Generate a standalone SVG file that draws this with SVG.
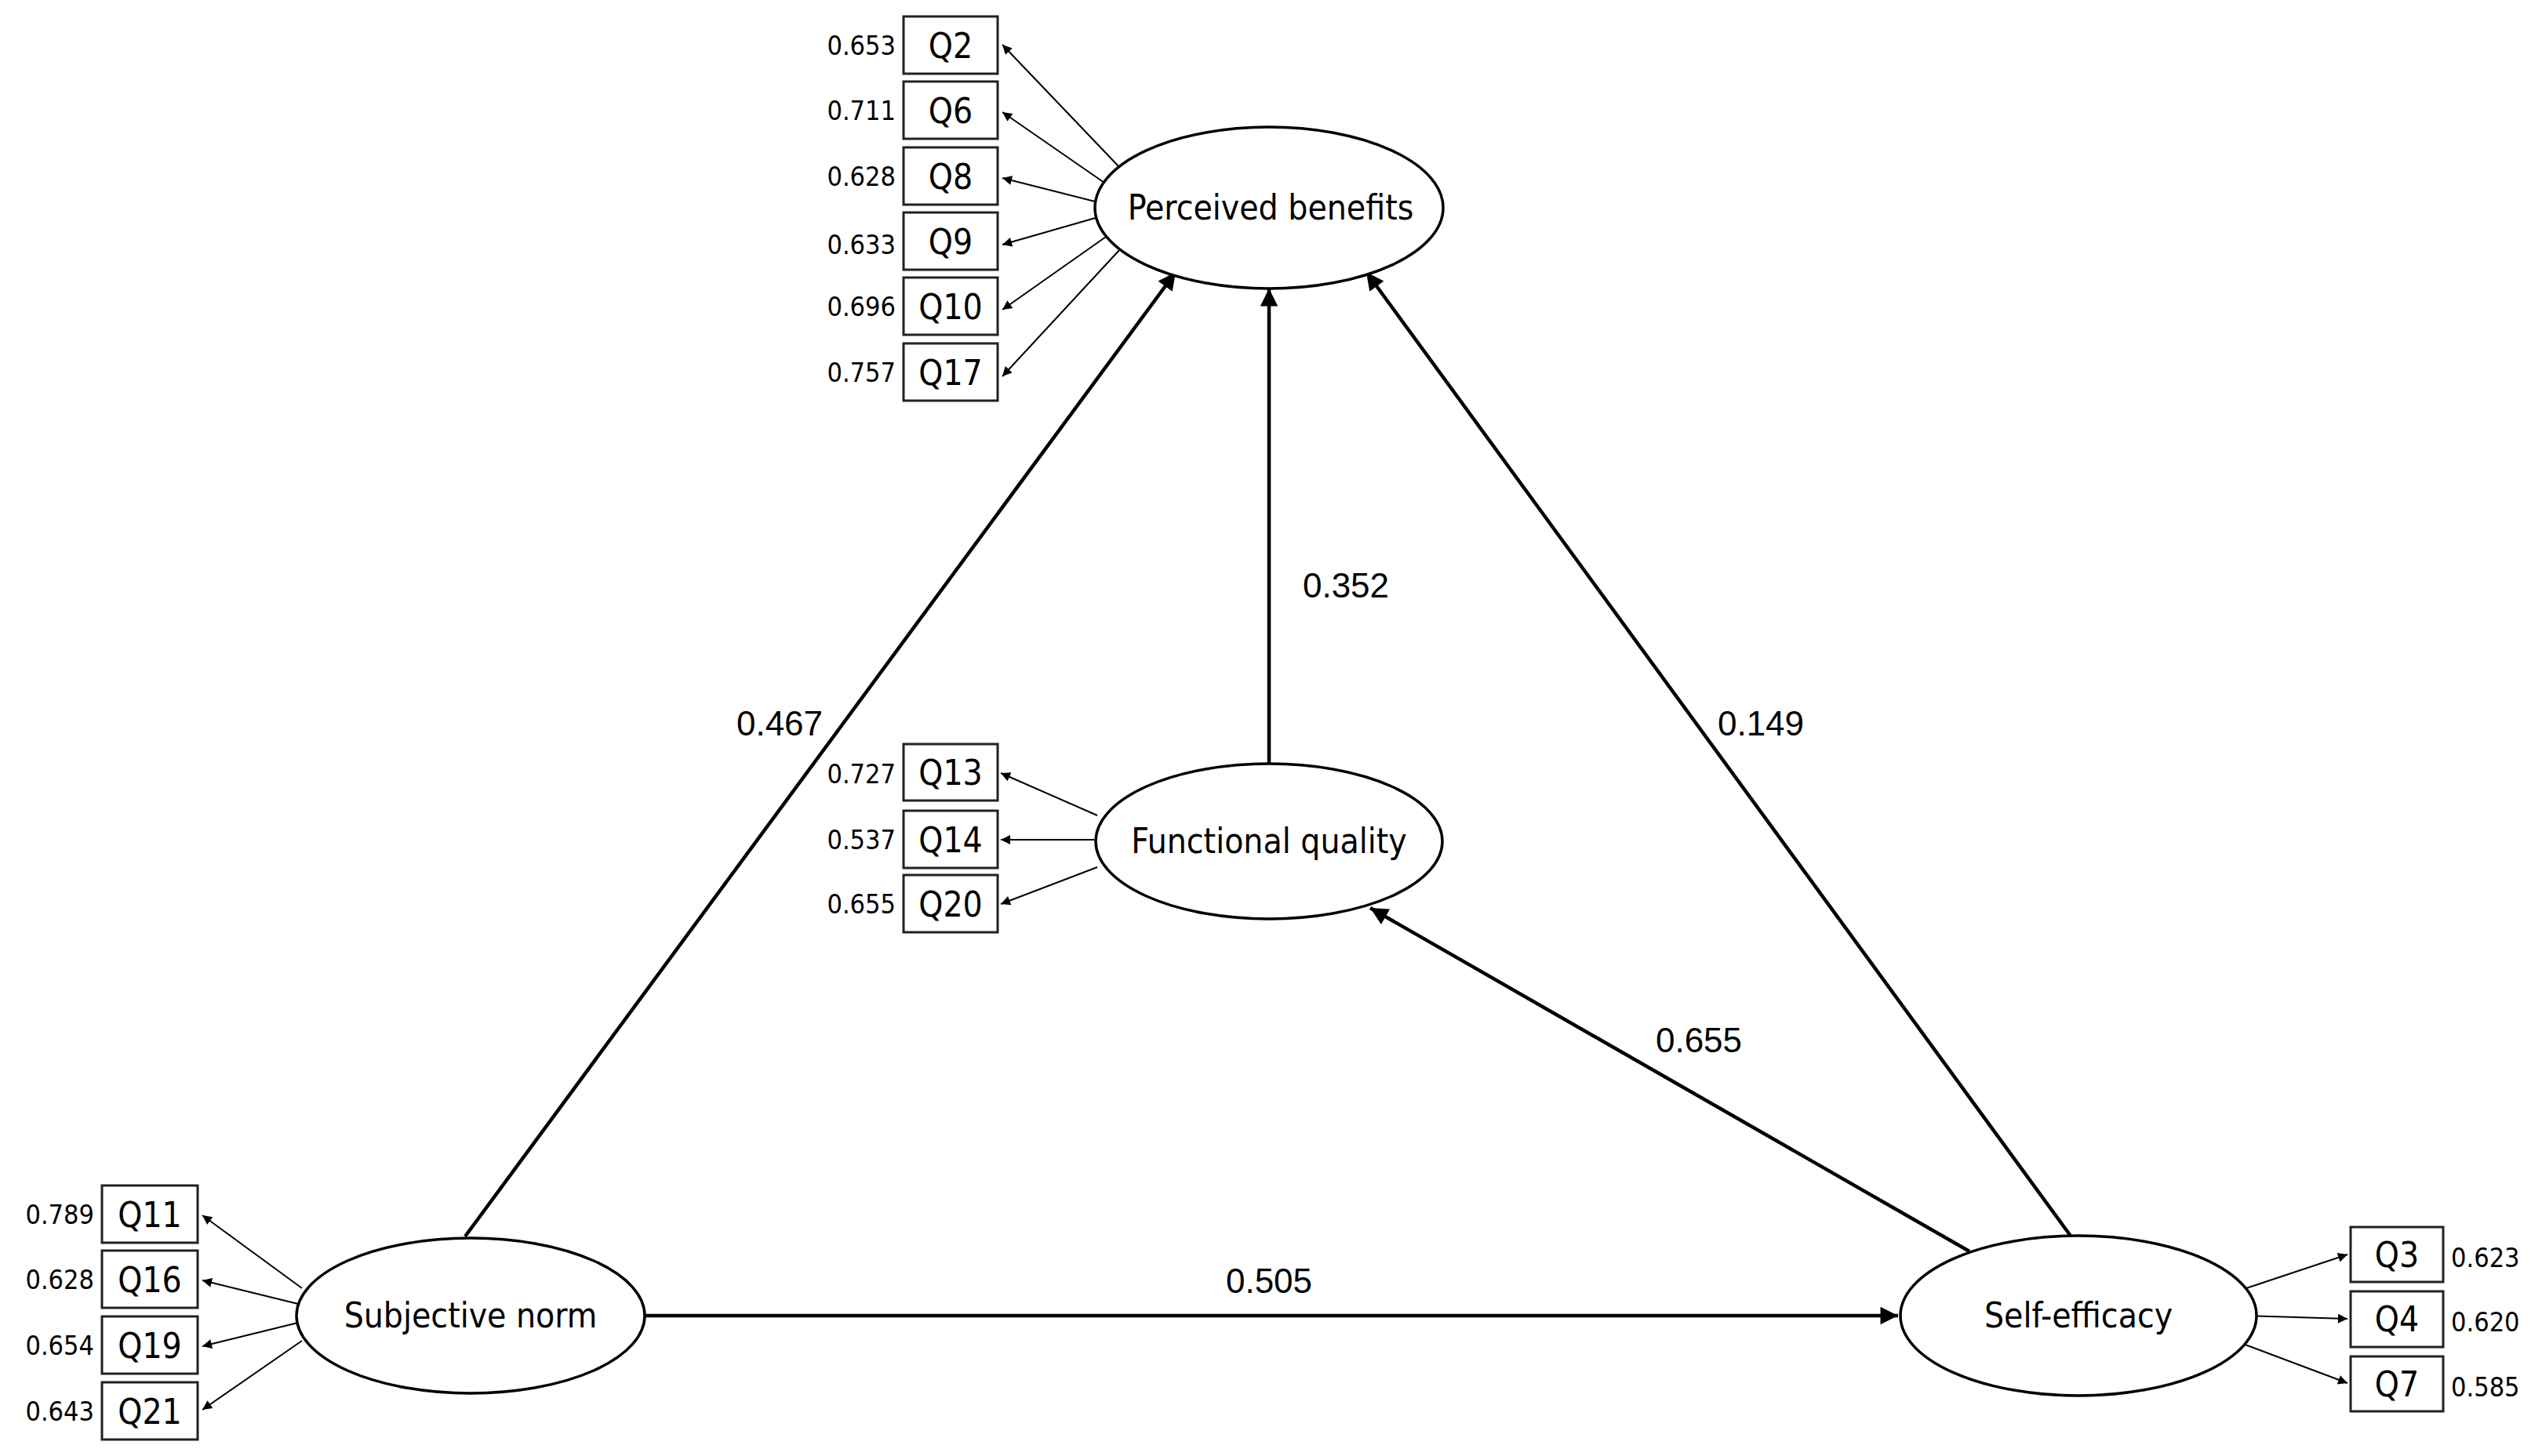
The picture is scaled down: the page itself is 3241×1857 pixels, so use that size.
<svg xmlns="http://www.w3.org/2000/svg" width="3241" height="1857" viewBox="0 0 3241 1857">
<style>
text{font-family:"DejaVu Sans Condensed","DejaVu Sans",sans-serif;fill:#000}
.n{font-size:34px}
.q{font-size:44px;text-anchor:middle}
.e{font-size:44px;text-anchor:middle}
.l{font-size:44px;text-anchor:middle;font-family:"Liberation Sans",sans-serif}
rect{fill:#fff;stroke:#222;stroke-width:3}
ellipse{fill:#fff;stroke:#000;stroke-width:3.5}
.thin{stroke:#000;stroke-width:2;fill:none;marker-end:url(#sa)}
.thick{stroke:#000;stroke-width:4.5;fill:none;marker-end:url(#la)}
</style>
<defs>
<marker id="sa" viewBox="0 0 10 10" refX="10" refY="5" markerWidth="9" markerHeight="6" markerUnits="strokeWidth" orient="auto"><path d="M0,0 L10,5 L0,10 z" fill="#000"/></marker>
<marker id="la" viewBox="0 0 10 10" refX="10" refY="5" markerWidth="9" markerHeight="5" markerUnits="strokeWidth" orient="auto"><path d="M0,0 L10,5 L0,10 z" fill="#000"/></marker>
</defs>
<rect width="3241" height="1857" fill="#fff" style="stroke:none"/>
<g id="connectors">
<line class="thin" x1="1427" y1="213" x2="1278" y2="57"/>
<line class="thin" x1="1408" y1="233" x2="1278" y2="143"/>
<line class="thin" x1="1400" y1="258" x2="1278" y2="227"/>
<line class="thin" x1="1400" y1="277" x2="1278" y2="312"/>
<line class="thin" x1="1410" y1="302" x2="1278" y2="395"/>
<line class="thin" x1="1428" y1="318" x2="1278" y2="480"/>
<line class="thin" x1="1399" y1="1040" x2="1276" y2="986"/>
<line class="thin" x1="1395" y1="1071" x2="1276" y2="1071"/>
<line class="thin" x1="1399" y1="1106" x2="1276" y2="1153"/>
<line class="thin" x1="385" y1="1643" x2="258" y2="1550"/>
<line class="thin" x1="380" y1="1663" x2="258" y2="1633"/>
<line class="thin" x1="380" y1="1687" x2="258" y2="1717"/>
<line class="thin" x1="385" y1="1710" x2="258" y2="1798"/>
<line class="thin" x1="2852" y1="1647" x2="2993" y2="1600"/>
<line class="thin" x1="2861" y1="1678" x2="2993" y2="1682"/>
<line class="thin" x1="2852" y1="1711" x2="2993" y2="1764"/>
<line class="thick" x1="593" y1="1577" x2="1499" y2="347"/>
<line class="thick" x1="1618" y1="974" x2="1618" y2="368"/>
<line class="thick" x1="2642" y1="1579" x2="1742" y2="347"/>
<line class="thick" x1="2511" y1="1596" x2="1747" y2="1158"/>
<line class="thick" x1="822" y1="1678" x2="2420" y2="1678"/>
<text class="l" x="994" y="938">0.467</text>
<text class="l" x="1716" y="762">0.352</text>
<text class="l" x="2245" y="938">0.149</text>
<text class="l" x="2166" y="1342">0.655</text>
<text class="l" x="1618" y="1649">0.505</text>
</g>
<g id="perceived-benefits"><ellipse cx="1618" cy="265" rx="222" ry="103"/><text class="e" x="1620" y="280">Perceived benefits</text></g>
<g id="functional-quality"><ellipse cx="1618" cy="1073" rx="221" ry="99"/><text class="e" x="1618" y="1088">Functional quality</text></g>
<g id="subjective-norm"><ellipse cx="600" cy="1678" rx="222" ry="99"/><text class="e" x="600" y="1693">Subjective norm</text></g>
<g id="self-efficacy"><ellipse cx="2650" cy="1678" rx="227" ry="102"/><text class="e" x="2650" y="1693">Self-efficacy</text></g>
<g id="Q2"><rect x="1152" y="21" width="120" height="73"/><text class="q" x="1212" y="74">Q2</text><text class="n" x="1142" y="70" text-anchor="end">0.653</text></g>
<g id="Q6"><rect x="1152" y="104" width="120" height="73"/><text class="q" x="1212" y="157">Q6</text><text class="n" x="1142" y="153" text-anchor="end">0.711</text></g>
<g id="Q8"><rect x="1152" y="188" width="120" height="73"/><text class="q" x="1212" y="241">Q8</text><text class="n" x="1142" y="237" text-anchor="end">0.628</text></g>
<g id="Q9"><rect x="1152" y="271" width="120" height="73"/><text class="q" x="1212" y="324">Q9</text><text class="n" x="1142" y="324" text-anchor="end">0.633</text></g>
<g id="Q10"><rect x="1152" y="354" width="120" height="73"/><text class="q" x="1212" y="407">Q10</text><text class="n" x="1142" y="403" text-anchor="end">0.696</text></g>
<g id="Q17"><rect x="1152" y="438" width="120" height="73"/><text class="q" x="1212" y="491">Q17</text><text class="n" x="1142" y="487" text-anchor="end">0.757</text></g>
<g id="Q13"><rect x="1152" y="949" width="120" height="72"/><text class="q" x="1212" y="1001">Q13</text><text class="n" x="1142" y="999" text-anchor="end">0.727</text></g>
<g id="Q14"><rect x="1152" y="1034" width="120" height="73"/><text class="q" x="1212" y="1087">Q14</text><text class="n" x="1142" y="1083" text-anchor="end">0.537</text></g>
<g id="Q20"><rect x="1152" y="1116" width="120" height="73"/><text class="q" x="1212" y="1169">Q20</text><text class="n" x="1142" y="1165" text-anchor="end">0.655</text></g>
<g id="Q11"><rect x="130" y="1512" width="122" height="73"/><text class="q" x="191" y="1565">Q11</text><text class="n" x="120" y="1561" text-anchor="end">0.789</text></g>
<g id="Q16"><rect x="130" y="1595" width="122" height="73"/><text class="q" x="191" y="1648">Q16</text><text class="n" x="120" y="1644" text-anchor="end">0.628</text></g>
<g id="Q19"><rect x="130" y="1679" width="122" height="73"/><text class="q" x="191" y="1732">Q19</text><text class="n" x="120" y="1728" text-anchor="end">0.654</text></g>
<g id="Q21"><rect x="130" y="1763" width="122" height="73"/><text class="q" x="191" y="1816">Q21</text><text class="n" x="120" y="1812" text-anchor="end">0.643</text></g>
<g id="Q3"><rect x="2997" y="1565" width="118" height="70"/><text class="q" x="3056" y="1616">Q3</text><text class="n" x="3125" y="1616">0.623</text></g>
<g id="Q4"><rect x="2997" y="1647" width="118" height="71"/><text class="q" x="3056" y="1698">Q4</text><text class="n" x="3125" y="1698">0.620</text></g>
<g id="Q7"><rect x="2997" y="1730" width="118" height="70"/><text class="q" x="3056" y="1781">Q7</text><text class="n" x="3125" y="1781">0.585</text></g>
</svg>
